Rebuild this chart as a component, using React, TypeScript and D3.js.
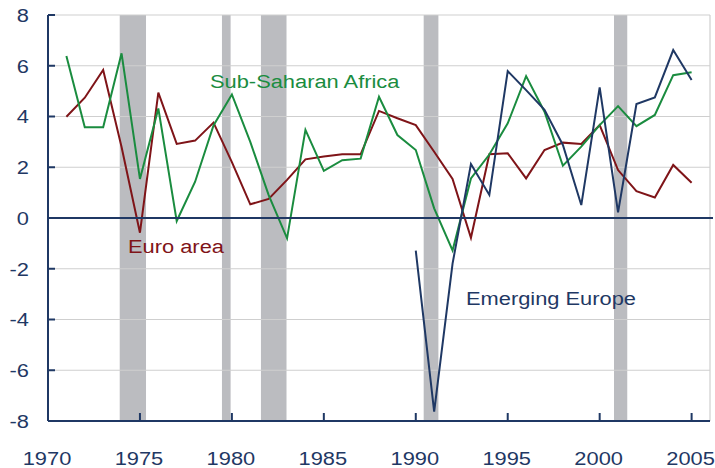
import React from "react";
import * as d3 from "d3";

const years = d3.range(1971, 2006);
const subSaharan = [6.38, 3.58, 3.58, 6.49, 1.54, 4.32, -0.12, 1.43, 3.65, 4.87, 3.0, 0.9, -0.8, 3.47, 1.86, 2.28, 2.34, 4.78, 3.27, 2.68, 0.38, -1.28, 1.56, 2.5, 3.73, 5.59, 4.19, 2.06, 2.81, 3.66, 4.41, 3.62, 4.06, 5.63, 5.74];
const euroArea = [3.99, 4.74, 5.83, 2.8, -0.58, 4.94, 2.92, 3.05, 3.76, 2.2, 0.54, 0.75, 1.5, 2.31, 2.42, 2.51, 2.51, 4.22, 3.93, 3.66, 2.61, 1.54, -0.78, 2.51, 2.55, 1.56, 2.68, 2.97, 2.92, 3.66, 1.89, 1.06, 0.81, 2.09, 1.39];
const emergingYears = d3.range(1990, 2006);
const emergingEurope = [-1.29, -7.63, -1.8, 2.13, 0.91, 5.79, 5.04, 4.26, 2.88, 0.51, 5.15, 0.22, 4.49, 4.75, 6.62, 5.44];
const recessions: [number, number][] = [[1973.9, 1975.33], [1979.46, 1979.93], [1981.58, 1982.97], [1990.43, 1991.23], [2000.78, 2001.5]];
const yTicks = [-8, -6, -4, -2, 0, 2, 4, 6, 8];
const xTicks = [1970, 1975, 1980, 1985, 1990, 1995, 2000, 2005];

const NAVY = "#1f3864";
const GREEN = "#1a8c3f";
const RED = "#7f1418";
const FONT = "'Liberation Sans', Arial, sans-serif";

function T({ x, y, anchor = "start", fill, children, dy }: any) {
  return (
    <text transform={`translate(${x},${y}) scale(1.15,1)`} textAnchor={anchor} dy={dy} fontSize={19} fill={fill}>
      {children}
    </text>
  );
}

export default function App() {
  const W = 715, H = 468;
  const x = d3.scaleLinear().domain([1970, 2006]).range([48, 710]);
  const y = d3.scaleLinear().domain([-8, 8]).range([421, 15]);
  const line = d3.line<[number, number]>().x(d => x(d[0])).y(d => y(d[1]));
  const ssa = line(years.map((yr, i) => [yr, subSaharan[i]]))!;
  const euro = line(years.map((yr, i) => [yr, euroArea[i]]))!;
  const eme = line(emergingYears.map((yr, i) => [yr, emergingEurope[i]]))!;
  return (
    <svg width={W} height={H} style={{ position: "absolute", left: 0, top: 0 }} fontFamily={FONT}>
      <rect x={0} y={0} width={W} height={H} fill="#fff" />
      {recessions.map((r, i) => (
        <rect key={i} x={x(r[0])} y={y(8)} width={x(r[1]) - x(r[0])} height={y(-8) - y(8)} fill="#bbbcc0" />
      ))}
      {yTicks.filter(t => t !== 0 && t !== -8).map(t => (
        <line key={t} x1={x(1970)} x2={x(2006)} y1={y(t)} y2={y(t)} stroke="#cfcfcf" strokeWidth={1.2} />
      ))}
      <line x1={x(2006)} x2={x(2006)} y1={y(8)} y2={y(-8)} stroke="#cfcfcf" strokeWidth={1.2} />
      <path d={euro} fill="none" stroke={RED} strokeWidth={2} />
      <path d={ssa} fill="none" stroke={GREEN} strokeWidth={2} />
      <path d={eme} fill="none" stroke={NAVY} strokeWidth={2} />
      <line x1={x(1970)} x2={713} y1={y(0)} y2={y(0)} stroke={NAVY} strokeWidth={2} />
      <line x1={x(1970)} x2={x(1970)} y1={y(8)} y2={y(-8)} stroke={NAVY} strokeWidth={2} />
      <line x1={x(1970)} x2={x(2006)} y1={y(-8)} y2={y(-8)} stroke={NAVY} strokeWidth={2} />
      {yTicks.map(t => (
        <g key={t}>
          <line x1={x(1970)} x2={x(1970) + 7} y1={y(t)} y2={y(t)} stroke={NAVY} strokeWidth={2} />
          <T x={29} y={y(t)} dy="0.36em" anchor="end" fill={NAVY}>{t}</T>
        </g>
      ))}
      {xTicks.map(t => (
        <g key={t}>
          <line x1={x(t)} x2={x(t)} y1={y(-8)} y2={y(-8) - 8} stroke={NAVY} strokeWidth={2} />
          <T x={x(t) - 1} y={465} anchor="middle" fill={NAVY}>{t}</T>
        </g>
      ))}
      <T x={210} y={88} fill={GREEN}>Sub-Saharan Africa</T>
      <T x={128} y={253} fill={RED}>Euro area</T>
      <T x={466} y={305} fill={NAVY}>Emerging Europe</T>
    </svg>
  );
}
